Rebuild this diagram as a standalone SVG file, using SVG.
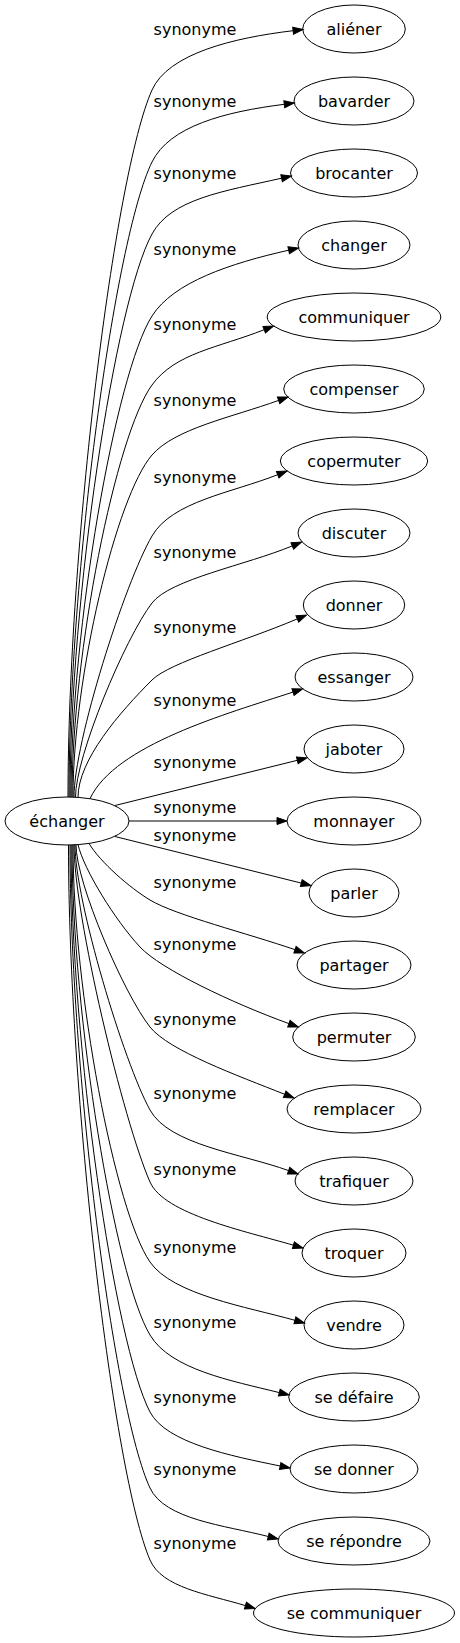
<svg xmlns="http://www.w3.org/2000/svg" width="460" height="1643" viewBox="0 0 460 1643">
<defs>
<style>
.n ellipse{fill:none;stroke:#000;stroke-width:1}
.n text,.e text{font-family:"DejaVu Sans","Verdana",sans-serif;font-size:16px;fill:#000;text-anchor:middle}
.e path{fill:none;stroke:#000;stroke-width:1;marker-end:url(#arr)}
</style>
<marker id="arr" markerUnits="userSpaceOnUse" markerWidth="12" markerHeight="9" refX="0" refY="3.5" orient="auto" overflow="visible">
<path d="M0,0 L10,3.5 L0,7 Z" fill="#000" stroke="#000" stroke-width="1"/>
</marker>
</defs>
<rect width="460" height="1643" fill="#fff"/>
<g id="connectors">
<g class="e" id="e0"><path d="M68,797 C68,549.6 114.2,174.8 152,90 C168.3,53.5 233.5,37.8 293.1,30.7"/><text x="195" y="34.7">synonyme</text></g>
<g class="e" id="e1"><path d="M69,797 C69,574.8 114.7,238.2 152,162 C169.6,126.1 224.8,111.8 284.3,104.3"/><text x="195" y="107">synonyme</text></g>
<g class="e" id="e2"><path d="M70,797 C70,600 115.1,301.6 152,234 C171.2,198.9 223.1,191.4 281.6,178.2"/><text x="195" y="179.4">synonyme</text></g>
<g class="e" id="e3"><path d="M71,797 C71,628.7 115.6,373.7 152,316 C173.4,282.2 230.2,263.4 288.7,250.2"/><text x="195" y="255.4">synonyme</text></g>
<g class="e" id="e4"><path d="M72,797 C72,652.8 116,434.4 152,385 C175.6,352.7 217.7,348 264.2,329.7"/><text x="195" y="330.4">synonyme</text></g>
<g class="e" id="e5"><path d="M73,797 C73,677.3 116.5,496 152,455 C175,428.5 231.6,417.4 278.6,400.4"/><text x="195" y="406.4">synonyme</text></g>
<g class="e" id="e6"><path d="M74,797 C74,742.2 124.7,583 152,536 C172.1,501.4 231.2,493 277.7,474.7"/><text x="195" y="483">synonyme</text></g>
<g class="e" id="e7"><path d="M75.5,797 C75.5,756.3 125.2,637.9 152,603 C170.3,579.2 246.1,565.1 292.3,545.9"/><text x="195" y="558">synonyme</text></g>
<g class="e" id="e8"><path d="M78,797.4 C78,760 120,712 152,680 C169.7,662.3 242.1,642.3 297.3,618.9"/><text x="195" y="632.7">synonyme</text></g>
<g class="e" id="e9"><path d="M90,798.7 C115,745 226.5,713.8 293,692.1"/><text x="195" y="706">synonyme</text></g>
<g class="e" id="e10"><path d="M115,805.5 L297.3,760.3"/><text x="195" y="767.7">synonyme</text></g>
<g class="e" id="e11"><path d="M129,821 L277,821"/><text x="195" y="813">synonyme</text></g>
<g class="e" id="e12"><path d="M115,836.5 L301.3,883.1"/><text x="195" y="841.4">synonyme</text></g>
<g class="e" id="e13"><path d="M89,843.4 C100,862 130,888 150,900 C175.7,915.4 247.8,933.4 295,949.7"/><text x="195" y="888">synonyme</text></g>
<g class="e" id="e14"><path d="M78,844.6 C84,870 115,920 140,947 C160.4,969 232.5,1003.2 288.9,1023.6"/><text x="195" y="950.4">synonyme</text></g>
<g class="e" id="e15"><path d="M76,844.7 C76,883 124.1,994.2 150,1027 C168.6,1050.6 238.2,1075.8 284.7,1094.3"/><text x="195" y="1024.7">synonyme</text></g>
<g class="e" id="e16"><path d="M75,844.8 C75,900.5 123.75,1062.3 150,1110 C169.3,1145 241.6,1153.6 288.6,1170.6"/><text x="195" y="1099.4">synonyme</text></g>
<g class="e" id="e17"><path d="M74,844.9 C74,915.7 123.4,1121.3 150,1182 C164,1214.1 245.4,1231.2 293.4,1245.2"/><text x="195" y="1174.7">synonyme</text></g>
<g class="e" id="e18"><path d="M73,845 C73,991 115.4,1212 150,1262 C172.8,1294.9 246.9,1306.8 294.9,1320.3"/><text x="195" y="1252.7">synonyme</text></g>
<g class="e" id="e19"><path d="M72,845 C72,1016.5 114.9,1276.2 150,1335 C170.5,1369.4 230.8,1380.6 279.3,1392.6"/><text x="195" y="1328">synonyme</text></g>
<g class="e" id="e20"><path d="M71,845 C71,1043.5 114.5,1344 150,1412 C166.2,1443 231.2,1456 280.2,1466"/><text x="195" y="1403">synonyme</text></g>
<g class="e" id="e21"><path d="M70,845 C70,1070 114,1410.8 150,1488 C164.8,1519.7 224.7,1525.3 268.3,1536.5"/><text x="195" y="1475.4">synonyme</text></g>
<g class="e" id="e22"><path d="M68.5,845 C68.5,1095.3 113.3,1474.2 150,1560 C161.8,1587.6 207.1,1594.1 245.4,1605.6"/><text x="195" y="1548.7">synonyme</text></g>
</g>
<g class="n" id="echanger"><ellipse cx="67" cy="821" rx="62" ry="24"/><text x="67" y="826.5">échanger</text></g>
<g class="n" id="alienner"><ellipse cx="354" cy="29" rx="51.3" ry="24"/><text x="354" y="34.5">aliéner</text></g>
<g class="n" id="bavarder"><ellipse cx="354" cy="101" rx="60" ry="24"/><text x="354" y="106.5">bavarder</text></g>
<g class="n" id="brocanter"><ellipse cx="354" cy="173" rx="63.5" ry="24"/><text x="354" y="178.5">brocanter</text></g>
<g class="n" id="changer"><ellipse cx="354" cy="245" rx="56" ry="24"/><text x="354" y="250.5">changer</text></g>
<g class="n" id="communiquer"><ellipse cx="354" cy="317" rx="86.8" ry="24"/><text x="354" y="322.5">communiquer</text></g>
<g class="n" id="compenser"><ellipse cx="354" cy="389" rx="70.3" ry="24"/><text x="354" y="394.5">compenser</text></g>
<g class="n" id="copermuter"><ellipse cx="354" cy="461" rx="73.7" ry="24"/><text x="354" y="466.5">copermuter</text></g>
<g class="n" id="discuter"><ellipse cx="354" cy="533" rx="56" ry="24"/><text x="354" y="538.5">discuter</text></g>
<g class="n" id="donner"><ellipse cx="354" cy="605" rx="50.7" ry="24"/><text x="354" y="610.5">donner</text></g>
<g class="n" id="essanger"><ellipse cx="354" cy="677" rx="59" ry="24"/><text x="354" y="682.5">essanger</text></g>
<g class="n" id="jaboter"><ellipse cx="354" cy="749" rx="50" ry="24"/><text x="354" y="754.5">jaboter</text></g>
<g class="n" id="monnayer"><ellipse cx="354" cy="821" rx="67" ry="24"/><text x="354" y="826.5">monnayer</text></g>
<g class="n" id="parler"><ellipse cx="354" cy="893" rx="45" ry="24"/><text x="354" y="898.5">parler</text></g>
<g class="n" id="partager"><ellipse cx="354" cy="965" rx="57" ry="24"/><text x="354" y="970.5">partager</text></g>
<g class="n" id="permuter"><ellipse cx="354" cy="1037" rx="61.3" ry="24"/><text x="354" y="1042.5">permuter</text></g>
<g class="n" id="remplacer"><ellipse cx="354" cy="1109" rx="67" ry="24"/><text x="354" y="1114.5">remplacer</text></g>
<g class="n" id="trafiquer"><ellipse cx="354" cy="1181" rx="59" ry="24"/><text x="354" y="1186.5">trafiquer</text></g>
<g class="n" id="troquer"><ellipse cx="354" cy="1253" rx="52" ry="24"/><text x="354" y="1258.5">troquer</text></g>
<g class="n" id="vendre"><ellipse cx="354" cy="1325" rx="50" ry="24"/><text x="354" y="1330.5">vendre</text></g>
<g class="n" id="se-defaire"><ellipse cx="354" cy="1397" rx="65.3" ry="24"/><text x="354" y="1402.5">se défaire</text></g>
<g class="n" id="se-donner"><ellipse cx="354" cy="1469" rx="64" ry="24"/><text x="354" y="1474.5">se donner</text></g>
<g class="n" id="se-repondre"><ellipse cx="354" cy="1541" rx="76" ry="24"/><text x="354" y="1546.5">se répondre</text></g>
<g class="n" id="se-communiquer"><ellipse cx="354" cy="1613" rx="100.5" ry="24"/><text x="354" y="1618.5">se communiquer</text></g>
</svg>
